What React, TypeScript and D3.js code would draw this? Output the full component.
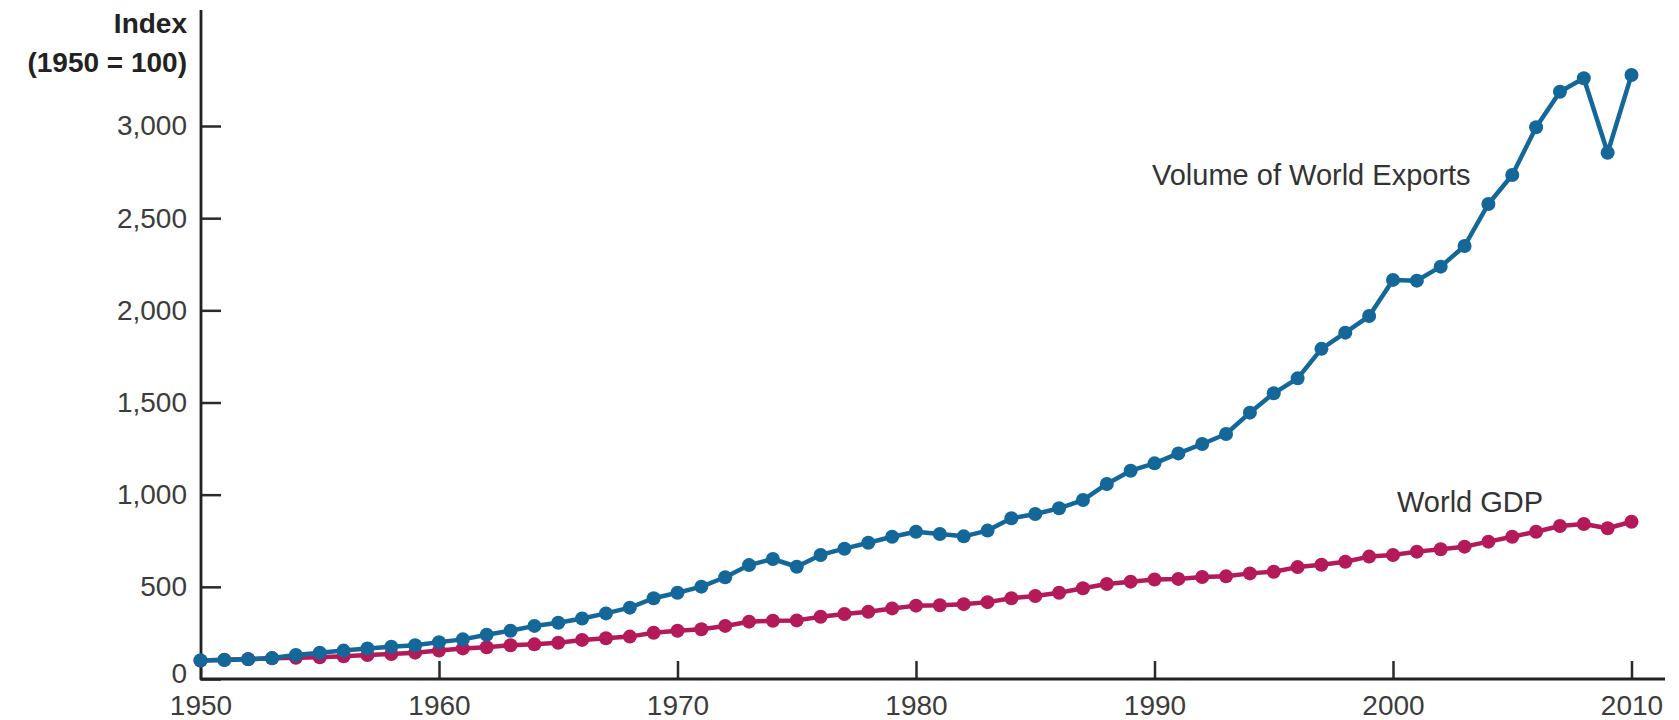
import React, { useEffect, useRef } from "react";
import * as d3 from "d3";

const years = d3.range(1950, 2011);

const exportsIndex = [
  100, 103, 107, 114, 130, 143, 154, 166, 175, 183,
  200, 215, 240, 262, 288, 305, 328, 356, 387, 438,
  468, 501, 552, 618, 651, 609, 673, 707, 739, 772,
  799, 787, 774, 805, 872, 895, 926, 971, 1058, 1130,
  1170, 1224, 1275, 1329, 1445, 1550, 1631, 1791, 1879, 1969,
  2165, 2161, 2237, 2349, 2577, 2734, 2993, 3186, 3259, 2855,
  3277,
];

const gdpIndex = [
  100, 104, 108, 112, 115, 118, 123, 130, 136, 143,
  154, 166, 172, 183, 188, 197, 212, 221, 230, 251,
  262, 270, 288, 311, 316, 318, 338, 353, 365, 383,
  398, 400, 406, 417, 438, 450, 468, 492, 515, 528,
  540, 543, 553, 557, 573, 582, 607, 620, 636, 664,
  673, 691, 704, 718, 745, 772, 799, 830, 841, 818,
  853,
];

const yTicks = [0, 500, 1000, 1500, 2000, 2500, 3000];
const xTicks = [1950, 1960, 1970, 1980, 1990, 2000, 2010];

const W = 1679;
const H = 720;
const FONT = "'Liberation Sans', Arial, Helvetica, sans-serif";

export default function App() {
  const ref = useRef<SVGSVGElement | null>(null);

  useEffect(() => {
    const svg = d3.select(ref.current);
    svg.selectAll("*").remove();

    const x = d3.scaleLinear().domain([1950, 2010]).range([200.5, 1631.5]);
    const y = d3.scaleLinear().domain([0, 3000]).range([679, 126]);

    // y axis, ticks point inward
    const yAxis = svg
      .append("g")
      .attr("transform", "translate(201,0)")
      .call(
        d3
          .axisLeft(y)
          .tickValues(yTicks)
          .tickSize(-20)
          .tickPadding(14)
          .tickFormat(d3.format(","))
      );
    yAxis.select(".domain").remove();
    yAxis.selectAll("line").attr("stroke", "#2a2a2a").attr("stroke-width", 2.5);
    yAxis
      .selectAll("text")
      .attr("fill", "#3c3c3c")
      .attr("dy", (d: any) => (d === 0 ? "0.12em" : "0.32em"))
      .style("font-family", FONT)
      .style("font-size", "28px");

    // x axis
    const xAxis = svg
      .append("g")
      .attr("transform", "translate(0,679)")
      .call(
        d3
          .axisBottom(x)
          .tickValues(xTicks)
          .tickSize(-18)
          .tickPadding(16)
          .tickFormat(d3.format("d"))
      );
    xAxis.select(".domain").remove();
    xAxis.selectAll("line").attr("stroke", "#2a2a2a").attr("stroke-width", 2.5);
    xAxis
      .selectAll("text")
      .attr("fill", "#3c3c3c")
      .style("font-family", FONT)
      .style("font-size", "28px");

    // axis lines
    svg
      .append("line")
      .attr("x1", 201)
      .attr("x2", 201)
      .attr("y1", 10)
      .attr("y2", 680)
      .attr("stroke", "#222")
      .attr("stroke-width", 2.8);
    svg
      .append("line")
      .attr("x1", 200)
      .attr("x2", 1665)
      .attr("y1", 679)
      .attr("y2", 679)
      .attr("stroke", "#222")
      .attr("stroke-width", 2.8);

    // axis title
    const title = svg
      .append("text")
      .attr("text-anchor", "end")
      .attr("fill", "#222")
      .style("font-family", FONT)
      .style("font-size", "28px")
      .style("font-weight", "bold");
    title.append("tspan").attr("x", 187).attr("y", 33).text("Index");
    title.append("tspan").attr("x", 187).attr("y", 72).text("(1950 = 100)");

    const series = [
      { name: "World GDP", values: gdpIndex, color: "#b41a5a" },
      { name: "Volume of World Exports", values: exportsIndex, color: "#136899" },
    ];

    const line = d3
      .line<number>()
      .x((_, i) => x(years[i]))
      .y((d) => y(d));

    series.forEach((s) => {
      svg
        .append("path")
        .datum(s.values)
        .attr("d", line)
        .attr("fill", "none")
        .attr("stroke", s.color)
        .attr("stroke-width", 4.5)
        .attr("stroke-linejoin", "round");

      svg
        .append("g")
        .selectAll("circle")
        .data(s.values)
        .enter()
        .append("circle")
        .attr("cx", (_, i) => x(years[i]))
        .attr("cy", (d) => y(d))
        .attr("r", 7)
        .attr("fill", s.color);
    });

    // series labels
    svg
      .append("text")
      .attr("x", 1152)
      .attr("y", 185)
      .attr("fill", "#333")
      .style("font-family", FONT)
      .style("font-size", "29px")
      .text("Volume of World Exports");
    svg
      .append("text")
      .attr("x", 1397)
      .attr("y", 512)
      .attr("fill", "#333")
      .style("font-family", FONT)
      .style("font-size", "29px")
      .text("World GDP");
  }, []);

  return (
    <svg
      ref={ref}
      width={W}
      height={H}
      style={{ position: "absolute", left: 0, top: 0, display: "block", background: "#fff" }}
    />
  );
}
